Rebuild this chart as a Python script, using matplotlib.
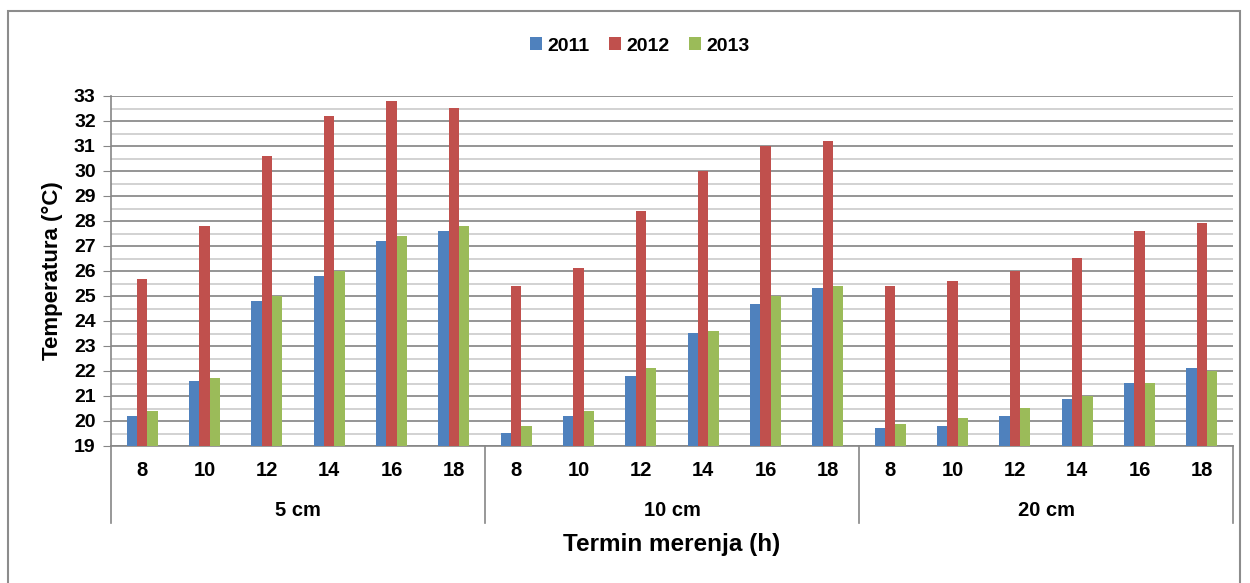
import matplotlib
matplotlib.use("Agg")
import matplotlib.pyplot as plt
from matplotlib.patches import Rectangle
import numpy as np

plt.rcParams['font.family'] = ['Liberation Sans', 'DejaVu Sans']

# data
hours = ['8', '10', '12', '14', '16', '18']
depths = ['5 cm', '10 cm', '20 cm']
years = ['2011', '2012', '2013']
t2011 = [20.2, 21.6, 24.8, 25.8, 27.2, 27.6,
         19.5, 20.2, 21.8, 23.5, 24.7, 25.3,
         19.7, 19.8, 20.2, 20.9, 21.5, 22.1]
t2012 = [25.7, 27.8, 30.6, 32.2, 32.8, 32.5,
         25.4, 26.1, 28.4, 30.0, 31.0, 31.2,
         25.4, 25.6, 26.0, 26.5, 27.6, 27.9]
t2013 = [20.4, 21.7, 25.0, 26.0, 27.4, 27.8,
         19.8, 20.4, 22.1, 23.6, 25.0, 25.4,
         19.9, 20.1, 20.5, 21.0, 21.5, 22.0]
colors = ['#4F81BD', '#C0504D', '#9BBB59']

fig = plt.figure(figsize=(12.5, 5.83), dpi=100)
# outer chart border
fig.patches.append(Rectangle((8 / 1250, -0.01), 1232 / 1250, 1 - 11 / 583 + 0.01,
                             transform=fig.transFigure, fill=False,
                             edgecolor='#8c8c8c', linewidth=1.5))

ax = fig.add_axes([111 / 1250, 1 - 446 / 583, 1122 / 1250, 350 / 583])

n = len(t2011)
x = np.arange(n)
w = 0.167
for i, (vals, c, lab) in enumerate(zip([t2011, t2012, t2013], colors, years)):
    ax.bar(x + (i - 1) * w, np.array(vals) - 19, width=w, bottom=19,
           color=c, label=lab, zorder=3, edgecolor='none')

ax.set_xlim(-0.5, n - 0.5)
ax.set_ylim(19, 33)
ax.set_yticks(range(19, 34))
ax.set_yticks(np.arange(19.5, 33, 1), minor=True)
ax.tick_params(axis='y', which='major', length=6, color='#868686', labelsize=14, pad=5)
ax.tick_params(axis='y', which='minor', length=0)
for t in ax.get_yticklabels():
    t.set_fontweight('bold')
ax.grid(axis='y', which='major', color='#8c8c8c', linewidth=1.3, zorder=0)
ax.grid(axis='y', which='minor', color='#cfcfcf', linewidth=1.3, zorder=0)
ax.set_xticks([])

for s in ['top', 'right']:
    ax.spines[s].set_visible(False)
ax.spines['left'].set_color('#868686')
ax.spines['bottom'].set_color('#868686')
ax.spines['left'].set_linewidth(1.2)
ax.spines['bottom'].set_linewidth(1.2)

# hour labels
for i in range(n):
    ax.text(i, -0.069, hours[i % len(hours)], transform=ax.get_xaxis_transform(),
            ha='center', va='center', fontsize=14.5, fontweight='bold')
# depth group labels and separators
for g, d in enumerate(depths):
    ax.text(g * 6 + 2.5, -0.183, d, transform=ax.get_xaxis_transform(),
            ha='center', va='center', fontsize=14.5, fontweight='bold')
for g in range(len(depths) + 1):
    ax.plot([g * 6 - 0.5, g * 6 - 0.5], [0, -0.22], transform=ax.get_xaxis_transform(),
            color='#868686', linewidth=1.2, clip_on=False)

ax.set_ylabel('Temperatura (°C)', fontsize=16, fontweight='bold', labelpad=8)
fig.text(672 / 1250, 1 - 545 / 583, 'Termin merenja (h)', ha='center', va='center',
         fontsize=17.5, fontweight='bold')

leg = fig.legend(loc='center', bbox_to_anchor=(640 / 1250, 1 - 46 / 583), ncol=3,
                 frameon=False, handlelength=0.6, handleheight=0.6, handletextpad=0.3,
                 columnspacing=1.0, prop={'weight': 'bold', 'size': 14})

fig.savefig('out.png', dpi=100)
